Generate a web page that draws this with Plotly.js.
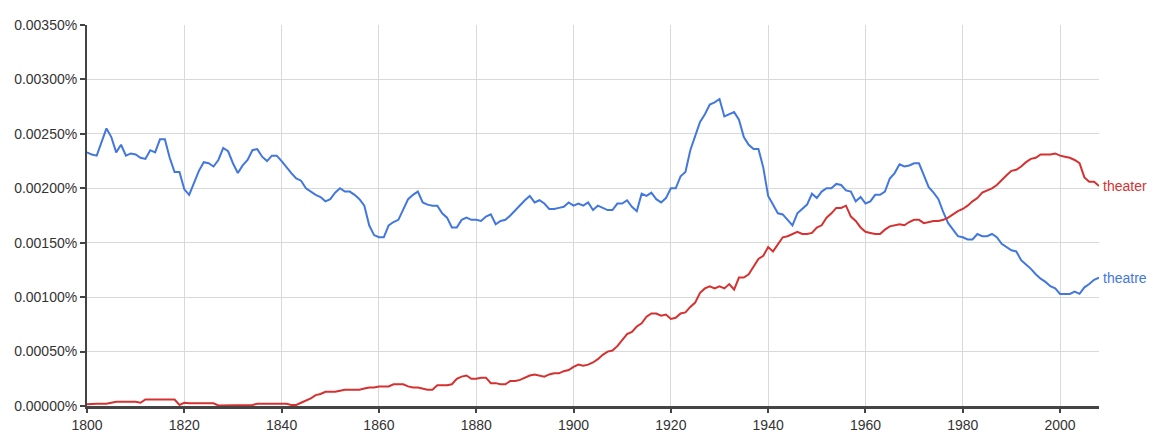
<!DOCTYPE html>
<html>
<head>
<meta charset="utf-8">
<script src="https://cdn.plot.ly/plotly-3.0.1.min.js"></script>
<style>html,body{margin:0;padding:0;background:#fff;}#chart{width:1167px;height:438px;}</style>
</head>
<body>
<div id="chart"></div>
<script>
const startYear = 1800;
const endYear = 2008;
const years = [];
for (let y = startYear; y <= endYear; y++) years.push(y);

const theatreLabel = "theatre";
const theaterLabel = "theater";

// values in percent
const theatre = [
0.00233,0.00231,0.00230,0.00243,0.00255,0.00247,0.00233,0.00240,0.00230,0.00232,
0.00231,0.00228,0.00227,0.00235,0.00233,0.00245,0.00245,0.00228,0.00215,0.00215,
0.00199,0.00194,0.00205,0.00216,0.00224,0.00223,0.00220,0.00226,0.00237,0.00234,
0.00223,0.00214,0.00221,0.00226,0.00235,0.00236,0.00229,0.00225,0.00230,0.00230,
0.00225,0.00219,0.00214,0.00209,0.00207,0.00200,0.00197,0.00194,0.00192,0.00188,
0.00190,0.00196,0.00200,0.00197,0.00197,0.00194,0.00190,0.00184,0.00166,0.00157,
0.00155,0.00155,0.00166,0.00169,0.00171,0.00180,0.00190,0.00194,0.00197,0.00187,
0.00185,0.00184,0.00184,0.00177,0.00173,0.00164,0.00164,0.00171,0.00173,0.00171,
0.00171,0.00170,0.00174,0.00176,0.00167,0.00170,0.00171,0.00175,0.00180,0.00184,
0.00189,0.00193,0.00187,0.00189,0.00186,0.00181,0.00181,0.00182,0.00183,0.00187,
0.00184,0.00186,0.00184,0.00187,0.00180,0.00184,0.00182,0.00180,0.00180,0.00186,
0.00186,0.00189,0.00183,0.00179,0.00195,0.00193,0.00196,0.00190,0.00187,0.00191,
0.00200,0.00200,0.00211,0.00215,0.00235,0.00248,0.00261,0.00268,0.00277,0.00279,
0.00282,0.00266,0.00268,0.00270,0.00263,0.00247,0.00240,0.00236,0.00236,0.00219,
0.00193,0.00185,0.00177,0.00176,0.00171,0.00166,0.00177,0.00181,0.00185,0.00195,
0.00191,0.00197,0.00200,0.00200,0.00204,0.00203,0.00198,0.00197,0.00188,0.00192,
0.00186,0.00188,0.00194,0.00194,0.00197,0.00209,0.00214,0.00222,0.00220,0.00221,
0.00223,0.00223,0.00212,0.00201,0.00196,0.00190,0.00178,0.00168,0.00162,0.00156,
0.00155,0.00153,0.00153,0.00158,0.00156,0.00156,0.00158,0.00155,0.00149,0.00146,
0.00143,0.00142,0.00134,0.00130,0.00126,0.00121,0.00117,0.00114,0.00110,0.00108,
0.00103,0.00103,0.00103,0.00105,0.00103,0.00109,0.00112,0.00116,0.00118
];

const theater = [
0.000015,0.00002,0.00002,0.00002,0.00002,0.00003,0.00004,0.00004,0.00004,0.00004,
0.00004,0.00003,0.00006,0.00006,0.00006,0.00006,0.00006,0.00006,0.00006,0.00001,
0.00003,0.000025,0.000025,0.000025,0.000025,0.000025,0.000025,0.000005,0.000005,0.000005,
0.000005,0.000005,0.000005,0.000005,0.00001,0.00002,0.00002,0.00002,0.00002,0.00002,
0.00002,0.00002,0.00001,0.00001,0.00003,0.00005,0.00007,0.00010,0.00011,0.00013,
0.00013,0.00013,0.00014,0.00015,0.00015,0.00015,0.00015,0.00016,0.00017,0.00017,
0.00018,0.00018,0.00018,0.00020,0.00020,0.00020,0.00018,0.00017,0.00017,0.00016,
0.00015,0.00015,0.00019,0.00019,0.00019,0.00020,0.00025,0.00027,0.00028,0.00025,
0.00025,0.00026,0.00026,0.00021,0.00021,0.00020,0.00020,0.00023,0.00023,0.00024,
0.00026,0.00028,0.00029,0.00028,0.00027,0.00029,0.00030,0.00030,0.00032,0.00033,
0.00036,0.00038,0.00037,0.00038,0.00040,0.00043,0.00047,0.00050,0.00051,0.00055,
0.00060,0.00066,0.00068,0.00073,0.00076,0.00082,0.00085,0.00085,0.00083,0.00084,
0.00080,0.00081,0.00085,0.00086,0.00091,0.00095,0.00104,0.00108,0.00110,0.00108,
0.00110,0.00108,0.00112,0.00107,0.00118,0.00118,0.00121,0.00128,0.00135,0.00138,
0.00146,0.00142,0.00148,0.00155,0.00156,0.00158,0.00160,0.00158,0.00158,0.00159,
0.00164,0.00166,0.00173,0.00177,0.00182,0.00182,0.00184,0.00174,0.00170,0.00164,
0.00160,0.00159,0.00158,0.00158,0.00162,0.00165,0.00166,0.00167,0.00166,0.00169,
0.00171,0.00171,0.00168,0.00169,0.00170,0.00170,0.00171,0.00173,0.00176,0.00179,
0.00181,0.00184,0.00188,0.00191,0.00196,0.00198,0.00200,0.00203,0.00208,0.00212,
0.00216,0.00217,0.00220,0.00224,0.00227,0.00228,0.00231,0.00231,0.00231,0.00232,
0.00230,0.00229,0.00228,0.00226,0.00223,0.00210,0.00206,0.00206,0.00202
];

const blue = "#4277dd";
const red = "#d63131";

const traces = [
  {x: years, y: theatre, type: "scatter", mode: "lines", name: theatreLabel,
   line: {color: blue, width: 2}, hoverinfo: "x+y"},
  {x: years, y: theater, type: "scatter", mode: "lines", name: theaterLabel,
   line: {color: red, width: 2}, hoverinfo: "x+y"}
];

const layout = {
  width: 1167, height: 438,
  margin: {l: 87, r: 68, t: 25, b: 32, pad: 0},
  paper_bgcolor: "#fff", plot_bgcolor: "#fff",
  showlegend: false,
  font: {family: "Liberation Sans, Arial, sans-serif", size: 14, color: "#333"},
  xaxis: {
    range: [startYear, endYear],
    dtick: 20, tick0: 1800,
    showgrid: true, gridcolor: "#d9d9d9", gridwidth: 1,
    zeroline: false,
    showline: true, linecolor: "#444", linewidth: 3,
    ticks: "outside", ticklen: 4, tickcolor: "#444", tickwidth: 2,
    tickfont: {size: 14, color: "#333"},
    fixedrange: true
  },
  yaxis: {
    range: [0, 0.0035],
    dtick: 0.0005, tick0: 0,
    tickformat: ".5f", ticksuffix: "%",
    showgrid: true, gridcolor: "#d9d9d9", gridwidth: 1,
    zeroline: false,
    showline: true, linecolor: "#444", linewidth: 2,
    ticks: "outside", ticklen: 5, tickcolor: "#444", tickwidth: 2,
    tickfont: {size: 14, color: "#333"},
    fixedrange: true
  },
  annotations: [
    {x: endYear, y: theater[theater.length - 1], xref: "x", yref: "y",
     text: theaterLabel, showarrow: false, xanchor: "left", yanchor: "middle",
     xshift: 2, font: {size: 14, color: red}},
    {x: endYear, y: theatre[theatre.length - 1], xref: "x", yref: "y",
     text: theatreLabel, showarrow: false, xanchor: "left", yanchor: "middle",
     xshift: 2, font: {size: 14, color: blue}}
  ]
};

Plotly.newPlot("chart", traces, layout, {displayModeBar: false, staticPlot: true});
</script>
</body>
</html>
